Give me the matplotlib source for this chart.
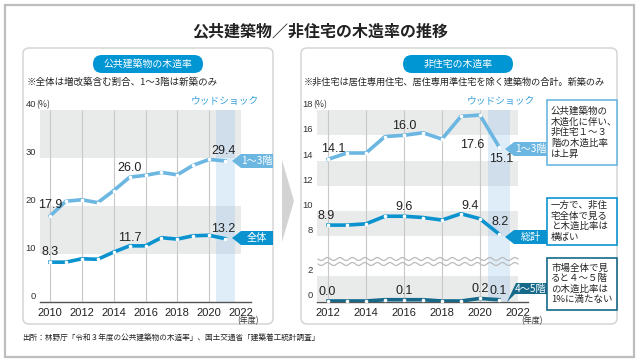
import numpy as np
import matplotlib.pyplot as plt
from matplotlib.patches import FancyBboxPatch, Polygon, Rectangle

plt.rcParams['font.family'] = ['Noto Sans CJK JP', 'DejaVu Sans']

# 公共建築物の木造率 (%)
pub_years = list(range(2010, 2022))
pub_low = [17.9, 21.0, 21.3, 20.7, 23.2, 26.0, 26.4, 27.0, 26.5, 28.5, 29.7, 29.4]   # 1~3階
pub_all = [8.3, 8.3, 9.0, 8.9, 10.4, 11.7, 11.7, 13.4, 13.1, 13.8, 13.9, 13.2]       # 全体

# 非住宅の木造率 (%)
nr_years = list(range(2012, 2022))
nr_low = [14.1, 14.6, 14.6, 15.9, 16.0, 16.2, 15.7, 17.5, 17.6, 15.1]   # 1~3階
nr_total = [8.9, 8.9, 9.0, 9.6, 9.6, 9.5, 9.3, 9.8, 9.4, 8.2]          # 総計
nr_mid = [0.0, 0.0, 0.0, 0.1, 0.1, 0.1, 0.0, 0.0, 0.2, 0.1]            # 4~5階

pub_yticks = [0, 10, 20, 30, 40]
nr_yticks = [0, 2, 8, 10, 12, 14, 16, 18]

C_LIGHT = '#6cb7e1'
C_MID = '#0a93cf'
C_DARK = '#17698a'
BAND = '#e9eaea'
GRID = '#c8c8c8'
NUM = 'Liberation Sans'

fig = plt.figure(figsize=(6.4, 3.62), dpi=100)


def rect(x0, x1, ytop, ybot):
    return [x0 / 640, 1 - ybot / 362, (x1 - x0) / 640, (ybot - ytop) / 362]


def pixel_axes(z):
    a = fig.add_axes([0, 0, 1, 1], zorder=z)
    a.set_xlim(0, 640)
    a.set_ylim(362, 0)
    a.axis('off')
    a.patch.set_alpha(0)
    return a


bg = pixel_axes(0)
fg = pixel_axes(5)

# frame, panels
bg.add_patch(Rectangle((5, 5), 629, 352, fc='white', ec='#bdbdbd', lw=1.6))
for x0, x1 in [(23, 273), (301, 617)]:
    bg.add_patch(FancyBboxPatch((x0, 48), x1 - x0, 276, boxstyle='round,pad=0,rounding_size=6',
                                fc='white', ec='#d2d2d2', lw=1))
bg.add_patch(Polygon([(282, 160), (294, 201), (282, 242)], fc='#d3d3d3', ec='none'))

bg.text(320, 31, '公共建築物／非住宅の木造率の推移', fontsize=11.5, fontweight='bold',
        ha='center', va='center', color='#222')
for x0, x1, txt in [(93, 203, '公共建築物の木造率'), (403, 513, '非住宅の木造率')]:
    bg.add_patch(FancyBboxPatch((x0, 55), x1 - x0, 18, boxstyle='round,pad=0,rounding_size=9',
                                fc='#0096d4', ec='none'))
    bg.text((x0 + x1) / 2, 64, txt, fontsize=7.1, color='white', ha='center', va='center')
bg.text(27, 82, '※全体は増改築含む割合、1～3階は新築のみ', fontsize=6.8, va='center', color='#222')
bg.text(304, 82, '※非住宅は居住専用住宅、居住専用準住宅を除く建築物の合計。新築のみ',
        fontsize=6.6, va='center', color='#222')
bg.text(225, 101, 'ウッドショック', fontsize=7, color='#3aa2dc', ha='center', va='center')
bg.text(501, 101, 'ウッドショック', fontsize=7, color='#3aa2dc', ha='center', va='center')
bg.text(248, 321, '(年度)', fontsize=5.8, ha='center', va='center', color='#333')
bg.text(532, 321, '(年度)', fontsize=5.8, ha='center', va='center', color='#333')
bg.text(22, 339, '出所：林野庁「令和３年度の公共建築物の木造率」、国土交通省「建築着工統計調査」',
        fontsize=5.5, va='center', color='#222')


def setup(ax, xlim, yticks, grey_spans):
    ax.patch.set_alpha(0)
    ax.set_xlim(*xlim)
    frac = (2022 - xlim[0]) / (xlim[1] - xlim[0])
    for a, b in grey_spans:
        ax.axhspan(a, b, xmin=0, xmax=frac, color=BAND, lw=0, zorder=0)
    ax.axvspan(2020.45, 2021.6, color='#8cbfea', alpha=0.28, lw=0, zorder=1.5)
    for s in ['top', 'right', 'left']:
        ax.spines[s].set_visible(False)
    ax.spines['bottom'].set_color('#555')
    ax.spines['bottom'].set_linewidth(1.0)
    ax.set_yticks([])
    first = int(np.ceil(xlim[0]))
    first += first % 2
    ax.set_xticks(range(first, 2023, 2))
    ax.tick_params(axis='x', length=0, pad=4, labelsize=8, labelcolor='#222',
                   labelfontfamily=NUM)
    for v in yticks:
        ax.annotate(str(v), xy=(0, v), xycoords=ax.get_yaxis_transform(), xytext=(-3, 4),
                    textcoords='offset points', ha='right', va='center', fontsize=6.8,
                    color='#333', family=NUM)
    ax.annotate('(%)', xy=(0, yticks[-1]), xycoords=ax.get_yaxis_transform(), xytext=(-3, 4),
                textcoords='offset points', ha='left', va='center', fontsize=6.3, color='#333')


def series(ax, x, y, color, labels):
    ax.plot(x, y, color=color, lw=2.6, marker='o', ms=2.6, mfc='white', mec='white',
            mew=0, zorder=3, solid_joinstyle='round')
    for i, dx, dy in labels:
        ax.annotate(f'{y[i]:.1f}', (x[i], y[i]), xytext=(dx * 0.72, dy * 0.72),
                    textcoords='offset points', ha='center', va='center', fontsize=9,
                    color='#222', family=NUM, zorder=4)


# left chart
ax1 = fig.add_axes(rect(40, 251, 110, 302), zorder=2)
setup(ax1, (2009.372, 2022.628), pub_yticks, [(10, 20), (30, 40)])
ax1.set_ylim(0, 40)
ax1.vlines(range(2010, 2021, 2), 0, 40, color=GRID, lw=0.8, zorder=1)
series(ax1, pub_years, pub_low, C_LIGHT, [(0, 0, 11), (5, 0, 9), (11, -2, 10)])
series(ax1, pub_years, pub_all, C_MID, [(0, 0, 10), (5, 0, 8), (11, -2, 10)])


# right chart with broken y axis
def fwd(v):
    return np.interp(v, [-10, 3.2, 6.6, 30], [-10, 3.2, 3.7, 27.1])


def inv(u):
    return np.interp(u, [-10, 3.2, 3.7, 27.1], [-10, 3.2, 6.6, 30])


ax2 = fig.add_axes(rect(317, 528, 110, 302), zorder=2)
ax2.set_yscale('function', functions=(fwd, inv))
setup(ax2, (2011.42, 2022.53), nr_yticks, [(0, 2), (8, 10), (12, 14), (16, 18)])
ax2.set_ylim(-0.08, 18)
ax2.vlines(range(2012, 2021, 2), -0.08, 18, color=GRID, lw=0.8, zorder=1)
series(ax2, nr_years, nr_low, C_LIGHT, [(0, 5, 10), (4, 0, 9), (8, -8, -30), (9, 2, -12)])
series(ax2, nr_years, nr_total, C_MID, [(0, -2, 9), (4, 0, 9), (8, -10, 13), (9, 1, 12)])
series(ax2, nr_years, nr_mid, C_DARK, [(0, -1, 9), (4, 0, 9), (8, 0, 9), (9, -1, 9)])

# break marks
xs = np.linspace(318, 518, 400)
for yb in (259, 264):
    fg.plot(xs, yb + 1.5 * np.sin(2 * np.pi * (xs - 318) / 12.5), color='#bbbbbb', lw=0.9)


# tags
def tag(x_tip, x_end, yc, color, txt, h=7):
    fg.add_patch(Polygon([(x_tip, yc), (x_tip + 9, yc - h), (x_end, yc - h), (x_end, yc + h),
                          (x_tip + 9, yc + h)], fc=color, ec='none'))
    fg.text((x_tip + 9 + x_end) / 2, yc, txt, color='white', fontsize=7.3,
            ha='center', va='center')


tag(232, 273, 161, C_LIGHT, '1〜3階')
tag(232, 273, 238, C_MID, '全体')
tag(505, 547, 149, C_LIGHT, '1〜3階')
tag(505, 547, 237, C_MID, '総計')
fg.add_patch(Polygon([(507, 302), (516, 283), (547, 283), (547, 294), (515, 294)],
                     fc=C_DARK, ec='none'))
fg.text(531, 288.5, '4〜5階', color='white', fontsize=7.3, ha='center', va='center')

# comment boxes
boxes = [
    (100, 165, C_LIGHT, '公共建築物の\n木造化に伴い、\n非住宅１～３\n階の木造比率\nは上昇'),
    (198, 245, C_MID, '一方で、非住\n宅全体で見る\nと木造比率は\n横ばい'),
    (258, 310, C_DARK, '市場全体で見\nると４～５階\nの木造比率は\n1%に満たない'),
]
for ytop, ybot, ec, txt in boxes:
    fg.add_patch(Rectangle((547, ytop), 70, ybot - ytop, fc='white', ec=ec, lw=1.2))
    fg.text(551, (ytop + ybot) / 2, txt, fontsize=6.8, linespacing=1.22, va='center',
            ha='left', color='#222')

fig.savefig('out.png', dpi=100)
